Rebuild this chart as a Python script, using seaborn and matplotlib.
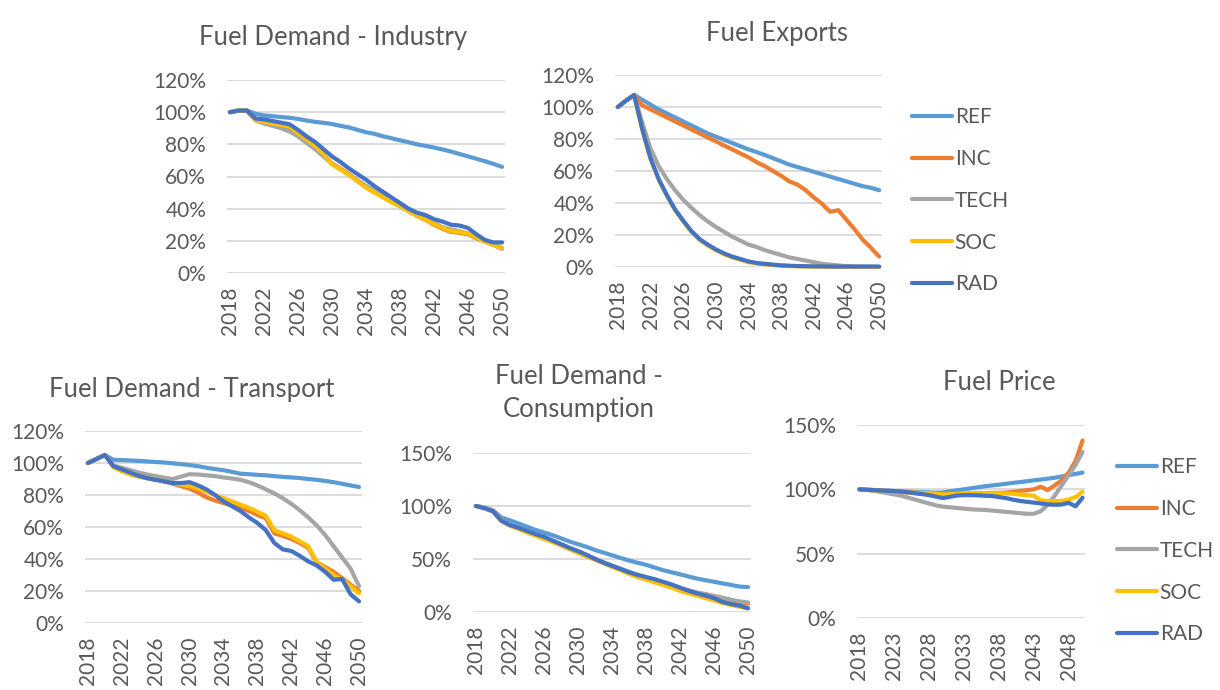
import pandas as pd
import numpy as np
import matplotlib
matplotlib.use("Agg")
import matplotlib.pyplot as plt
import seaborn as sns
from matplotlib.ticker import FuncFormatter

# ---------------- data (% of 2018 level) ----------------
years = list(range(2018, 2051))
scenarios = ["REF", "INC", "TECH", "SOC", "RAD"]

ind_ref  = [100, 101, 101, 99, 98, 97.5, 97, 96.5, 95.8, 94.8, 94, 93.4, 92.6, 91.5, 90.5, 89, 87.5, 86.5, 85, 83.8, 82.5, 81.3, 80, 79, 78, 76.8, 75.5, 74, 72.5, 71, 69.5, 67.8, 66]
ind_inc  = [100, 101, 101, 95, 93.5, 92.5, 91.5, 90, 86.5, 82.5, 78.5, 73.5, 68, 65, 61.5, 57.5, 54, 50.5, 47.5, 44.5, 41.5, 38.5, 35.5, 33, 30, 27.5, 25.5, 25, 24, 21.5, 19.5, 17.5, 15.5]
ind_tech = [100, 101, 101, 95, 93, 91.5, 90, 88, 85, 81, 77, 72.5, 68, 64.5, 61, 57.5, 54, 51, 48, 45, 42, 39, 36, 33.5, 31, 28.5, 27, 26, 24.5, 22, 20, 17.5, 15]
ind_soc  = [100, 101, 101, 95, 94, 93, 92, 91, 87, 83, 79, 74, 67.5, 64.5, 61, 57, 53, 50, 47, 44, 41.5, 38.5, 35.5, 33, 30.5, 28, 26, 25.5, 24.5, 22, 19.5, 17.5, 15.5]
ind_rad  = [100, 101, 101, 96, 95.5, 94.5, 93.5, 92.5, 89, 85, 81.5, 77, 72.5, 69, 65, 61.5, 58, 54, 50.5, 47, 43.5, 40, 37.5, 36, 33.5, 32, 30, 29.5, 28, 24, 20.5, 19, 19]

exp_ref  = [100, 104, 107.5, 104.5, 101.5, 98.5, 96, 93.5, 91, 88.5, 86, 83.5, 81.5, 79.5, 77.5, 75.5, 73.5, 71.8, 70, 68, 66, 64, 62.5, 61, 59.5, 58, 56.5, 55, 53.5, 52, 50.5, 49.5, 48]
exp_inc  = [100, 104, 107.5, 101, 98.5, 96, 93.5, 91, 88.5, 86, 83.5, 81, 78.5, 76, 73.5, 71, 68.5, 65.5, 63, 60, 57, 53.5, 51.5, 48, 43.5, 39.5, 34.5, 35.5, 29.5, 23.5, 17, 12, 6.5]
exp_tech = [100, 104, 107.5, 90, 74, 63, 55, 48, 42, 37, 32.5, 28.5, 25, 22, 19, 16.5, 14, 12.5, 10.5, 9, 7.5, 6, 5, 4, 3, 2, 1.5, 1, 0.5, 0.3, 0.2, 0.1, 0]
exp_soc  = [100, 104, 107.5, 85.5, 67.5, 54.5, 44.5, 35.5, 28.5, 22, 17, 13.5, 10.5, 8, 6, 4.5, 3, 2.2, 1.7, 1.2, 0.8, 0.6, 0.4, 0.3, 0.2, 0.2, 0.1, 0.1, 0.1, 0, 0, 0, 0]
exp_rad  = [100, 104, 107.5, 86, 68, 55, 45, 36, 29, 22.5, 17.5, 14, 11, 8.5, 6.5, 5, 3.5, 2.5, 2, 1.5, 1, 0.8, 0.6, 0.5, 0.4, 0.4, 0.3, 0.3, 0.3, 0.3, 0.3, 0.3, 0.3]

tra_ref  = [100, 102.5, 105, 102, 101.8, 101.6, 101.3, 101, 100.6, 100.3, 99.8, 99.3, 98.7, 98, 97, 96.2, 95.5, 94.5, 93.3, 93, 92.6, 92.3, 91.8, 91.3, 91, 90.6, 90, 89.5, 88.8, 88, 87, 86, 85]
tra_inc  = [100, 102.5, 105, 97.5, 95, 93, 91.5, 90.5, 89.5, 88.5, 87, 85.5, 84, 81.5, 78.5, 76.5, 75, 73.5, 72, 70, 67.5, 65.5, 56, 54.5, 52.5, 50, 47, 38, 35, 32, 28, 24, 20]
tra_tech = [100, 102.5, 105, 98.5, 97, 95.5, 94, 92.8, 91.8, 90.8, 90, 91.5, 93, 92.8, 92.3, 91.8, 91, 90.3, 89.5, 88, 86, 83.5, 81, 78, 74.5, 70.5, 66, 61, 55, 48, 41, 34, 23]
tra_soc  = [100, 102.5, 105, 97.5, 95, 93, 91.5, 90.5, 89.5, 88.5, 87.5, 86.5, 85.5, 84, 82, 80, 78, 76, 74, 72, 69.5, 67, 58, 56, 54, 51, 48, 38, 34, 30, 27, 23, 18.5]
tra_rad  = [100, 102.5, 105, 98, 96, 94, 92, 90.5, 89.5, 88.5, 87.5, 87.5, 88, 86, 83.5, 80, 76, 73, 70, 66, 62.5, 58, 50, 46, 45, 42, 38.5, 36, 32, 27, 27.5, 18, 13.5]

con_ref  = [100, 98.5, 96, 89, 86.5, 83.5, 80.5, 77.5, 75, 72.5, 69.5, 66.5, 64, 61.5, 58.5, 56, 53.5, 51, 48.5, 46.5, 44.5, 42, 39.5, 37.5, 35.5, 33.5, 31.5, 30, 28.5, 27, 25.5, 24, 23.5]
con_inc  = [100, 98, 95, 86, 81.5, 78.5, 75.5, 72.5, 69.5, 66.5, 63, 59.5, 56, 52.5, 49.5, 46.5, 43.5, 40.5, 37.5, 34.5, 32, 29.5, 27, 24.5, 22, 20, 18, 16.5, 15, 13, 11, 9.5, 8]
con_tech = [100, 98, 95, 86, 82, 79, 76, 73, 70, 67, 64, 60.5, 57, 53.5, 50.5, 47, 44, 41, 38, 35, 32.5, 30, 27.5, 25, 22.5, 20.5, 18.5, 17, 15, 13.5, 11.5, 10, 9]
con_soc  = [100, 98, 95, 86, 81.5, 78.5, 75, 72, 69, 66, 63, 59.5, 56, 52.5, 49.5, 46, 42.5, 39.5, 36, 33, 30.5, 28, 25.5, 23, 20, 17.5, 15.5, 13, 11, 8.5, 6.5, 5, 3.5]
con_rad  = [100, 98, 95, 86, 82, 79.5, 76.5, 73.5, 71, 67.5, 64, 60.5, 57.5, 54, 50, 46.5, 43.5, 40.5, 37.5, 35, 33, 31, 28.5, 26, 23, 20, 17.5, 15.5, 13, 9.5, 7.5, 6, 3.5]

pri_ref  = [100, 99.8, 99.5, 99.2, 99, 98.7, 98.4, 98.2, 98, 97.8, 97.6, 97.4, 97.6, 98.5, 99.3, 100, 100.8, 101.6, 102.4, 103, 103.6, 104.3, 105, 105.6, 106.3, 107, 107.6, 108.3, 109, 110, 111, 112, 113]
pri_inc  = [100, 99.7, 99.3, 99, 98.7, 98.4, 98, 97.5, 97, 96.5, 96, 95.5, 95.7, 96, 96.3, 96.6, 96.8, 97, 97, 97.2, 97.3, 97.5, 98, 98.7, 99.3, 100, 102, 99.5, 103, 107, 113, 122, 138]
pri_tech = [100, 99.5, 99, 98, 97, 96, 95, 93.5, 92, 90.5, 89, 87.5, 86.5, 86, 85.5, 85, 84.5, 84.2, 84, 83.5, 83, 82.5, 82, 81.5, 81, 81, 83, 88, 95, 103, 111, 119, 129]
pri_soc  = [100, 99.7, 99.3, 99, 98.7, 98.4, 98.1, 97.8, 97.5, 97.2, 96.9, 96.6, 96, 96.3, 96.5, 96.7, 96.8, 96.9, 96.9, 96.9, 96.9, 96.9, 96.5, 96, 95.5, 95, 91.5, 91, 91, 91, 92, 94, 98]
pri_rad  = [100, 99.7, 99.4, 99.1, 98.8, 98.6, 98.2, 97.7, 97, 96.3, 95.5, 94.3, 93.2, 94.2, 95.2, 95.5, 95.5, 95.3, 95, 94.8, 94, 93.2, 92, 91, 90.3, 89.7, 89, 88.3, 88, 88.2, 89.5, 86.8, 93.5]

colors = {"REF": "#5B9BD5", "INC": "#ED7D31", "TECH": "#A5A5A5", "SOC": "#FFC000", "RAD": "#4472C4"}
TXT = "#595959"

sns.set_theme(style="white")
plt.rcParams["font.family"] = ["Lato", "DejaVu Sans"]

W, H = 1220, 690
fig = plt.figure(figsize=(W / 100, H / 100), dpi=100)
fig.patch.set_facecolor("white")


def box(x0, x1, ytop, ybot):
    return [x0 / W, 1 - ybot / H, (x1 - x0) / W, (ybot - ytop) / H]


def panel(rect, series, ymax, ystep, xticks):
    ax = fig.add_axes(rect)
    df = pd.DataFrame({"year": years})
    for name, vals in zip(scenarios, series):
        df[name] = vals
    df = df.melt(id_vars="year", var_name="scenario", value_name="value")
    sns.lineplot(data=df, x="year", y="value", hue="scenario", hue_order=scenarios,
                 palette=colors, linewidth=3, legend=False, ax=ax)
    for ln in ax.get_lines():
        ln.set_clip_on(False)
        ln.set_solid_joinstyle("round")
        ln.set_solid_capstyle("round")
    ax.set_xlim(2017.65, 2050.35)
    ax.set_ylim(0, ymax)
    ax.set_yticks(np.arange(0, ymax + 1, ystep))
    ax.yaxis.set_major_formatter(FuncFormatter(lambda v, p: f"{v:.0f}%"))
    ax.set_xticks(xticks)
    ax.set_xticklabels([str(t) for t in xticks], rotation=90)
    ax.set_xlabel("")
    ax.set_ylabel("")
    ax.yaxis.grid(True, color="#D9D9D9", linewidth=1.3)
    ax.xaxis.grid(False)
    ax.set_axisbelow(True)
    for s in ax.spines.values():
        s.set_visible(False)
    ax.tick_params(axis="y", length=0, pad=15, labelsize=15, labelcolor=TXT)
    ax.tick_params(axis="x", length=0, pad=10, labelsize=15, labelcolor=TXT)
    return ax


ticks4 = list(range(2018, 2051, 4))
ticks5 = list(range(2018, 2049, 5))

ax_ind = panel(box(227, 505, 80, 273), [ind_ref, ind_inc, ind_tech, ind_soc, ind_rad], 120, 20, ticks4)
ax_exp = panel(box(615, 882, 75, 267), [exp_ref, exp_inc, exp_tech, exp_soc, exp_rad], 120, 20, ticks4)
ax_tra = panel(box(85, 362, 431, 623), [tra_ref, tra_inc, tra_tech, tra_soc, tra_rad], 120, 20, ticks4)
ax_con = panel(box(473, 751, 453, 612), [con_ref, con_inc, con_tech, con_soc, con_rad], 150, 50, ticks4)
ax_pri = panel(box(857, 1085, 425, 618), [pri_ref, pri_inc, pri_tech, pri_soc, pri_rad], 150, 50, ticks5)

# titles
title_kw = dict(ha="center", va="center", fontsize=18.5, color=TXT)
fig.text(333 / W, 1 - 37 / H, "Fuel Demand - Industry", **title_kw)
fig.text(777 / W, 1 - 33 / H, "Fuel Exports", **title_kw)
fig.text(192 / W, 1 - 389 / H, "Fuel Demand - Transport", **title_kw)
fig.text(579 / W, 1 - 377 / H, "Fuel Demand -", **title_kw)
fig.text(579 / W, 1 - 410 / H, "Consumption", **title_kw)
fig.text(999 / W, 1 - 383 / H, "Fuel Price", **title_kw)

# legends
for ax, (lx, ly) in [(ax_exp, (912, 107)), (ax_pri, (1117, 457))]:
    handles = ax.get_lines()[:5]
    leg = fig.legend(handles, scenarios, loc="upper left",
                     bbox_to_anchor=(lx / W, 1 - ly / H), frameon=False,
                     fontsize=15, handlelength=1.9, handletextpad=0.15,
                     labelspacing=1.05, borderaxespad=0, borderpad=0)
    for t in leg.get_texts():
        t.set_color(TXT)

plt.savefig("out.png", dpi=100)
plt.close()
